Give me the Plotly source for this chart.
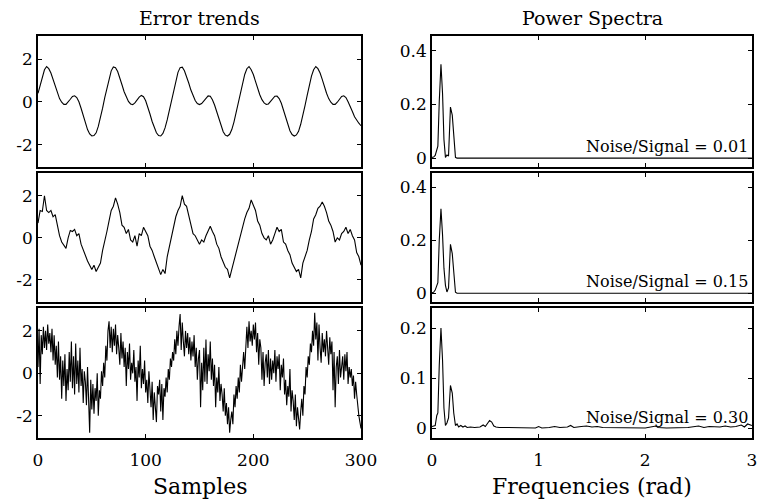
import plotly.graph_objects as go
from plotly.subplots import make_subplots

# ---------------- data ----------------
# Panel 1 (Noise/Signal = 0.01), sampled every 2 samples
t_step2 = list(range(0, 301, 2))
trend_001 = [
    0.4, 0.75, 1.2, 1.5, 1.65, 1.55, 1.35, 1.05, 0.7, 0.4,
    0.15, -0.02, -0.12, -0.12, -0.02, 0.12, 0.25, 0.28, 0.2, 0.0,
    -0.3, -0.65, -1.0, -1.3, -1.5, -1.6, -1.58, -1.45, -1.15, -0.75,
    -0.3, 0.2, 0.65, 1.1, 1.45, 1.63, 1.6, 1.42, 1.15, 0.8,
    0.47, 0.2, 0.02, -0.1, -0.13, -0.05, 0.1, 0.22, 0.3, 0.24,
    0.05, -0.22, -0.57, -0.92, -1.22, -1.45, -1.58, -1.6, -1.48, -1.22,
    -0.85, -0.4, 0.08, 0.55, 1.0, 1.38, 1.6, 1.62, 1.45, 1.2,
    0.88, 0.55, 0.27, 0.06, -0.08, -0.13, -0.08, 0.05, 0.2, 0.28,
    0.26, 0.1, -0.15, -0.48, -0.83, -1.15, -1.4, -1.56, -1.6, -1.52,
    -1.3, -0.95, -0.52, -0.05, 0.42, 0.88, 1.28, 1.55, 1.65, 1.5,
    1.28, 0.96, 0.62, 0.33, 0.1, -0.05, -0.12, -0.1, 0.02, 0.16,
    0.26, 0.27, 0.15, -0.07, -0.4, -0.75, -1.08, -1.35, -1.53, -1.6,
    -1.55, -1.38, -1.05, -0.65, -0.18, 0.3, 0.77, 1.2, 1.5, 1.65,
    1.55, 1.35, 1.05, 0.7, 0.4, 0.15, -0.02, -0.12, -0.12, -0.02,
    0.12, 0.25, 0.28, 0.2, 0.0, -0.2, -0.45, -0.7, -0.88, -1.0,
    -1.12,
]

# Panel 2 (Noise/Signal = 0.15), sampled every 2 samples
trend_015 = [
    0.7, 1.3, 1.25, 2.0, 1.3, 1.2, 1.3, 1.0, 1.1, 0.6,
    0.1, -0.2, -0.35, -0.5, 0.0, 0.35, 0.3, 0.4, 0.1, 0.2,
    -0.3, -0.6, -0.9, -1.1, -1.3, -1.5, -1.3, -1.6, -1.4, -1.2,
    -0.6, -0.2, 0.3, 0.8, 1.3, 1.5, 1.9, 1.6, 1.2, 0.6,
    0.5, 0.2, 0.4, -0.1, -0.2, 0.1, -0.4, 0.2, 0.1, 0.5,
    0.3, 0.1, -0.4, -0.6, -0.9, -1.2, -1.5, -1.75, -1.5, -1.7,
    -0.9, -0.4, 0.0, 0.6, 1.0, 1.3, 1.5, 2.0, 1.6, 1.5,
    1.1, 0.7, 0.2, 0.1, -0.1, -0.3, -0.1, -0.2, 0.1, 0.3,
    0.55, 0.3, 0.1, -0.3, -0.5, -0.9, -1.2, -1.4, -1.5, -1.9,
    -1.5, -1.1, -0.6, -0.2, 0.2, 0.6, 0.9, 1.2, 1.4, 1.8,
    1.5, 1.3, 0.8, 0.6, 0.2, 0.0, -0.1, 0.1, -0.3, -0.1,
    0.2, 0.5, 0.3, 0.4, -0.2, -0.3, -0.6, -0.8, -1.2, -1.4,
    -1.6, -1.5, -1.9, -1.2, -0.9, -0.6, -0.1, 0.3, 0.9, 1.1,
    1.4, 1.5, 1.7, 1.5, 1.2, 0.8, 0.6, 0.3, -0.2, 0.0,
    -0.1, 0.2, 0.3, 0.5, 0.2, 0.4, 0.1, -0.1, -0.7, -0.9,
    -1.3,
]

# Panel 3 (Noise/Signal = 0.30), every sample
t_step1 = list(range(0, 301))
trend_030 = [
    0.3, 2.1, -0.5, 1.8, 0.9, 2.2, 1.2, 2.0, 1.1, 2.3,
    1.4, 1.9, 1.0, 2.1, 0.6, 1.8, 0.4, 1.3, -0.2, 1.5,
    -0.3, 0.8, -1.2, 0.6, -0.6, 0.9, -1.3, 0.2, -0.8, 1.0,
    -0.4, 1.5, -0.7, 0.8, -1.0, 1.4, -0.5, 0.6, -0.9, 1.2,
    -0.6, 0.2, -1.4, 0.1, -0.4, -1.5, 0.3, -1.1, -2.8, -0.3,
    -1.7, -0.5, -1.9, -0.7, -1.3, 0.0, -2.0, -0.8, -1.2, 0.1,
    -0.6, 0.5, -0.2, 1.3, 0.6, 2.0, 2.45, 1.2, 2.2, 1.0,
    2.1, 1.3, 2.3, 0.9, 1.8, 1.2, 0.4, 1.9, 0.7, 1.5,
    0.3, 1.2, -0.6, 1.0, 0.2, 1.4, -0.3, 0.5, 0.0, 1.1,
    -0.4, 0.3, -1.3, 0.6, -0.2, 1.3, -0.7, 0.2, -0.5, 0.6,
    -0.9, -0.3, -1.4, 0.1, -0.8, -1.6, -0.4, -2.2, -0.9, -1.5,
    -2.3, -0.6, -1.0, -0.3, -1.8, -0.5, -2.2, -0.7, -1.1, -0.2,
    -0.9, 0.2, -0.3, 0.7, 0.3, 1.0, 0.6, 1.6, 0.9, 2.0,
    1.3, 2.2, 2.8, 1.1, 2.4, 1.5, 0.8, 2.0, 1.2, 1.9,
    0.9, 1.7, 0.6, 1.5, 0.8, 1.8, 0.3, 1.2, -0.3, 0.7,
    1.1, -1.6, 0.5, -0.8, 1.2, -0.4, 1.6, -0.5, 0.9, 0.1,
    1.5, -0.3, 0.7, -0.6, 0.4, -1.6, -0.2, -0.9, 0.3, -1.3,
    -0.5, -1.0, -1.8, -0.7, -2.0, -1.4, -2.4, -1.6, -2.8, -2.2,
    -1.8, -2.4, -1.0, -1.6, -0.6, -1.2, -0.2, -0.9, 0.4, -0.4,
    0.3, 1.0, 0.2, 1.5, 2.2, 1.2, 2.45, 1.5, 2.0, 1.3,
    2.3, 1.6, 2.4, 1.0, 1.9, 0.4, 1.6, 1.2, -0.3, 1.0,
    -0.6, 0.5, 0.9, -0.2, 1.1, -0.5, 0.7, -0.3, 0.6, 0.0,
    1.1, -0.4, 0.8, 0.2, 0.9, -0.8, 0.4, -0.2, 0.7, -1.0,
    -0.3, -1.5, -0.6, -1.1, 0.2, -1.8, -0.8, -1.3, -2.2, -1.0,
    -2.5, -1.6, -2.0, -2.65, -1.8, -1.2, -2.0, -0.6, -1.0, 0.3,
    -0.2, 0.8, 0.4, 1.4, 1.0, 2.0, 1.3, 2.85, 1.6, 2.4,
    0.6, 2.3, 1.2, 0.5, 1.9, 1.0, 1.6, 0.8, 2.0, 1.1,
    0.4, 1.7, 0.9, 1.5, -0.8, 1.0, -1.6, 0.3, 0.8, -0.5,
    1.1, -0.2, 0.5, 0.8, -0.3, 0.9, 0.1, 1.0, -0.5, 0.3,
    -0.2, 0.2, -0.6, -0.1, -1.2, -0.4, -1.0, -1.6, -2.0, -2.3,
    -2.6,
]

# Power spectra
freq_a = [0, 0.015, 0.03, 0.045, 0.055, 0.068, 0.084, 0.099, 0.112, 0.126,
          0.14, 0.155, 0.173, 0.19, 0.204, 0.22, 0.235, 3.0]
power_001 = [0.003, 0.004, 0.01, 0.03, 0.045, 0.21, 0.35, 0.24, 0.07, 0.003,
             0.012, 0.008, 0.19, 0.16, 0.065, 0.003, 0.0, 0.0]
power_015 = [0.003, 0.004, 0.012, 0.03, 0.04, 0.2, 0.32, 0.22, 0.095, 0.03,
             0.005, 0.02, 0.185, 0.15, 0.065, 0.004, 0.0, 0.0]
freq_b = [0, 0.015, 0.03, 0.045, 0.055, 0.068, 0.084, 0.099, 0.112, 0.126,
          0.14, 0.155, 0.173, 0.19, 0.204, 0.22, 0.235, 0.25, 0.27, 0.29,
          0.31, 0.33, 0.36, 0.4, 0.45, 0.48, 0.5, 0.52, 0.54, 0.56,
          0.58, 0.6, 0.63, 0.7, 0.8, 0.9, 0.97, 1.0, 1.03, 1.1,
          1.15, 1.2, 1.27, 1.3, 1.33, 1.4, 1.45, 1.5, 1.55, 1.6,
          1.7, 1.8, 1.9, 2.0, 2.1, 2.12, 2.2, 2.3, 2.4, 2.5,
          2.55, 2.6, 2.7, 2.75, 2.8, 2.85, 2.9, 2.93, 2.96, 3.0]
power_030 = [0.003, 0.004, 0.005, 0.025, 0.03, 0.125, 0.2, 0.135, 0.04, 0.005,
             0.01, 0.02, 0.085, 0.07, 0.03, 0.005, 0.008, 0.002, 0.005, 0.002,
             0.004, 0.001, 0.002, 0.001, 0.002, 0.006, 0.003, 0.009, 0.015, 0.012,
             0.004, 0.002, 0.001, 0.001, 0.001, 0.001, 0.0, 0.003, 0.0, 0.001,
             0.003, 0.001, 0.002, 0.005, 0.001, 0.003, 0.004, 0.002, 0.003, 0.001,
             0.001, 0.001, 0.001, 0.0, 0.004, 0.001, 0.0, 0.001, 0.001, 0.004,
             0.001, 0.003, 0.002, 0.004, 0.002, 0.003, 0.006, 0.002, 0.008, 0.005]

ratio_labels = ["Noise/Signal = 0.01", "Noise/Signal = 0.15", "Noise/Signal = 0.30"]
left_ticks = [0, 100, 200, 300]
right_ticks = [0, 1, 2, 3]

# ---------------- figure ----------------
W, H = 759, 502
FONT = "DejaVu Serif"

fig = make_subplots(rows=3, cols=2)

line = dict(color="black", width=1.1)
fig.add_trace(go.Scatter(x=t_step2, y=trend_001, mode="lines", line=line), row=1, col=1)
fig.add_trace(go.Scatter(x=freq_a, y=power_001, mode="lines", line=line), row=1, col=2)
fig.add_trace(go.Scatter(x=t_step2, y=trend_015, mode="lines", line=line), row=2, col=1)
fig.add_trace(go.Scatter(x=freq_a, y=power_015, mode="lines", line=line), row=2, col=2)
fig.add_trace(go.Scatter(x=t_step1, y=trend_030, mode="lines", line=line), row=3, col=1)
fig.add_trace(go.Scatter(x=freq_b, y=power_030, mode="lines", line=line), row=3, col=2)


def px_x(a, b):
    return [a / W, b / W]


def px_y(top, bottom):
    return [1 - bottom / H, 1 - top / H]


left_dom = px_x(38, 361)
right_dom = px_x(432, 752)
row_doms = [px_y(36, 167), px_y(173, 302), px_y(308, 438)]

common = dict(showline=True, linecolor="black", linewidth=1.5, mirror="ticks",
              ticks="inside", ticklen=4, tickcolor="black", showgrid=False,
              zeroline=False, automargin=False,
              tickfont=dict(family=FONT, size=17, color="black"))

for r in range(3):
    xl = r * 2 + 1
    xr = r * 2 + 2
    last = (r == 2)
    fig.layout[f"xaxis{xl if xl > 1 else ''}"].update(
        domain=left_dom, range=[0, 300], tickvals=left_ticks,
        showticklabels=last, ticklabelstandoff=6, **common)
    fig.layout[f"xaxis{xr}"].update(
        domain=right_dom, range=[0, 3.001], tickvals=right_ticks,
        showticklabels=last, ticklabelstandoff=6, **common)
    fig.layout[f"yaxis{xl if xl > 1 else ''}"].update(
        domain=row_doms[r], range=[-3.05, 3.08], tickvals=[-2, 0, 2],
        ticktext=["-2", "0", "2"], **common)
    if r < 2:
        fig.layout[f"yaxis{xr}"].update(
            domain=row_doms[r], range=[-0.033, 0.455], tickvals=[0, 0.2, 0.4],
            ticktext=["0", "0.2", "0.4"], **common)
    else:
        fig.layout[f"yaxis{xr}"].update(
            domain=row_doms[r], range=[-0.02, 0.24], tickvals=[0, 0.1, 0.2],
            ticktext=["0", "0.1", "0.2"], **common)

annotations = []
for r in range(3):
    xr = r * 2 + 2
    annotations.append(dict(
        text=ratio_labels[r], xref=f"x{xr} domain", yref=f"y{xr} domain",
        x=0.995, y=0.16, xanchor="right", yanchor="middle", showarrow=False,
        font=dict(family=FONT, size=16, color="black")))

annotations += [
    dict(text="Error trends", xref="paper", yref="paper",
         x=sum(left_dom) / 2, y=1 - 18 / H, xanchor="center", yanchor="middle",
         showarrow=False, font=dict(family=FONT, size=19, color="black")),
    dict(text="Power Spectra", xref="paper", yref="paper",
         x=sum(right_dom) / 2, y=1 - 18 / H, xanchor="center", yanchor="middle",
         showarrow=False, font=dict(family=FONT, size=19, color="black")),
    dict(text="Samples", xref="paper", yref="paper",
         x=sum(left_dom) / 2, y=1 - 486 / H, xanchor="center", yanchor="middle",
         showarrow=False, font=dict(family=FONT, size=22, color="black")),
    dict(text="Frequencies (rad)", xref="paper", yref="paper",
         x=sum(right_dom) / 2, y=1 - 486 / H, xanchor="center", yanchor="middle",
         showarrow=False, font=dict(family=FONT, size=22, color="black")),
]

fig.update_layout(
    width=W, height=H, margin=dict(l=0, r=0, t=0, b=0),
    paper_bgcolor="white", plot_bgcolor="white", showlegend=False,
    annotations=annotations,
)

fig.write_html("out.html")
